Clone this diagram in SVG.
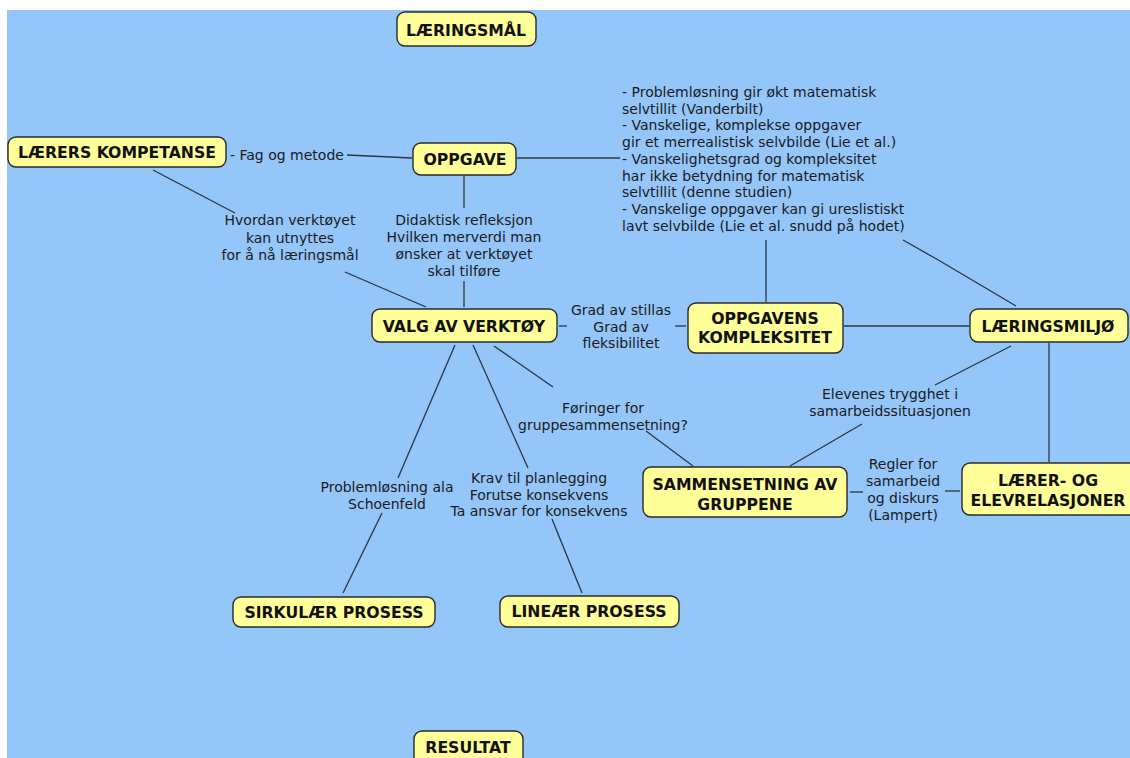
<svg xmlns="http://www.w3.org/2000/svg" width="1130" height="758" viewBox="0 0 1130 758">
<style>
.node rect{fill:#ffff99;stroke:#2a2a2a;stroke-width:1.4}
.node text{font-family:"DejaVu Sans",Verdana,sans-serif;font-weight:bold;font-size:15.7px;fill:#111;text-anchor:middle}
.lbl{font-family:"DejaVu Sans",Verdana,sans-serif;font-size:14px;fill:#1a1a1a;text-anchor:middle}
.lbl.left{text-anchor:start}
#connectors line,#connectors polyline{stroke:#2e3440;stroke-width:1.3;fill:none}
</style>
<rect x="0" y="0" width="1130" height="758" fill="#ffffff"/>
<rect x="7" y="10" width="1123" height="748" fill="#94c6fa"/>
<g id="connectors">
<line x1="347" y1="155" x2="412" y2="158"/>
<line x1="517" y1="158" x2="620" y2="158"/>
<line x1="766" y1="240" x2="766" y2="302"/>
<polyline points="903,240 940,261 1016,306"/>
<line x1="464" y1="176" x2="464" y2="208"/>
<line x1="464" y1="281" x2="464" y2="307"/>
<line x1="153" y1="170" x2="235" y2="213"/>
<line x1="345" y1="272" x2="426" y2="307"/>
<line x1="559" y1="326" x2="567" y2="326"/>
<line x1="675" y1="326" x2="686" y2="326"/>
<line x1="844" y1="326" x2="969" y2="326"/>
<line x1="1011" y1="346" x2="935" y2="385"/>
<line x1="862" y1="424" x2="790" y2="466"/>
<line x1="1049" y1="343" x2="1049" y2="462"/>
<line x1="850" y1="492" x2="863" y2="492"/>
<line x1="945" y1="491" x2="960" y2="491"/>
<line x1="494" y1="346" x2="553" y2="387"/>
<line x1="646" y1="431" x2="693" y2="466"/>
<line x1="455" y1="345" x2="398" y2="478"/>
<line x1="382" y1="513" x2="343" y2="593"/>
<line x1="473" y1="345" x2="528" y2="468"/>
<line x1="552" y1="519" x2="582" y2="593"/>
<text class="lbl left" x="230" y="160">- Fag og metode</text>
<text class="lbl left" x="622"><tspan x="622" y="97">- Problemløsning gir økt matematisk</tspan><tspan x="622" y="113.7">selvtillit (Vanderbilt)</tspan><tspan x="622" y="130.4">- Vanskelige, komplekse oppgaver</tspan><tspan x="622" y="147.1">gir et merrealistisk selvbilde (Lie et al.)</tspan><tspan x="622" y="163.8">- Vanskelighetsgrad og kompleksitet</tspan><tspan x="622" y="180.5">har ikke betydning for matematisk</tspan><tspan x="622" y="197.2">selvtillit (denne studien)</tspan><tspan x="622" y="213.9">- Vanskelige oppgaver kan gi ureslistiskt</tspan><tspan x="622" y="230.6">lavt selvbilde (Lie et al. snudd på hodet)</tspan></text>
<text class="lbl"><tspan x="464" y="224.5">Didaktisk refleksjon</tspan><tspan x="464" y="242">Hvilken merverdi man</tspan><tspan x="464" y="259">ønsker at verktøyet</tspan><tspan x="464" y="275.5">skal tilføre</tspan></text>
<text class="lbl"><tspan x="290" y="225">Hvordan verktøyet</tspan><tspan x="290" y="243">kan utnyttes</tspan><tspan x="290" y="260">for å nå læringsmål</tspan></text>
<text class="lbl"><tspan x="621" y="315">Grad av stillas</tspan><tspan x="621" y="332">Grad av</tspan><tspan x="621" y="348">fleksibilitet</tspan></text>
<text class="lbl"><tspan x="890" y="399">Elevenes trygghet i</tspan><tspan x="890" y="416">samarbeidssituasjonen</tspan></text>
<text class="lbl"><tspan x="603" y="413">Føringer for</tspan><tspan x="603" y="430">gruppesammensetning?</tspan></text>
<text class="lbl"><tspan x="903" y="469">Regler for</tspan><tspan x="903" y="486">samarbeid</tspan><tspan x="903" y="503">og diskurs</tspan><tspan x="903" y="520">(Lampert)</tspan></text>
<text class="lbl"><tspan x="387" y="492">Problemløsning ala</tspan><tspan x="387" y="509">Schoenfeld</tspan></text>
<text class="lbl"><tspan x="539" y="483">Krav til planlegging</tspan><tspan x="539" y="500">Forutse konsekvens</tspan><tspan x="539" y="516">Ta ansvar for konsekvens</tspan></text>
</g>
<g id="n-laeringsmal" class="node"><rect x="397" y="12" width="139" height="34" rx="8"/><text x="466" y="35.5">LÆRINGSMÅL</text></g>
<g id="n-laerers-kompetanse" class="node"><rect x="8" y="137" width="218" height="30" rx="8"/><text x="117" y="158">LÆRERS KOMPETANSE</text></g>
<g id="n-oppgave" class="node"><rect x="413" y="143" width="103" height="32" rx="8"/><text x="465" y="165">OPPGAVE</text></g>
<g id="n-valg" class="node"><rect x="372" y="309" width="185" height="33" rx="8"/><text x="464" y="331.5">VALG AV VERKTØY</text></g>
<g id="n-oppgavens" class="node"><rect x="688" y="303" width="155" height="50" rx="8"/><text x="765" y="323.5">OPPGAVENS</text><text x="765" y="343">KOMPLEKSITET</text></g>
<g id="n-laeringsmiljo" class="node"><rect x="970" y="309" width="158" height="33" rx="8"/><text x="1048" y="331.5">LÆRINGSMILJØ</text></g>
<g id="n-sammensetning" class="node"><rect x="643" y="467" width="204" height="50" rx="8"/><text x="745" y="490">SAMMENSETNING AV</text><text x="745" y="509.5">GRUPPENE</text></g>
<g id="n-laerer" class="node"><rect x="962" y="463" width="180" height="52" rx="8"/><text x="1048" y="486">LÆRER- OG</text><text x="1048" y="505.5">ELEVRELASJONER</text></g>
<g id="n-sirkulaer" class="node"><rect x="233" y="597" width="202" height="30" rx="8"/><text x="334" y="617.5">SIRKULÆR PROSESS</text></g>
<g id="n-lineaer" class="node"><rect x="500" y="596" width="179" height="31" rx="8"/><text x="589" y="616.5">LINEÆR PROSESS</text></g>
<g id="n-resultat" class="node"><rect x="414" y="731" width="109" height="34" rx="8"/><text x="468" y="752.5">RESULTAT</text></g>
</svg>
